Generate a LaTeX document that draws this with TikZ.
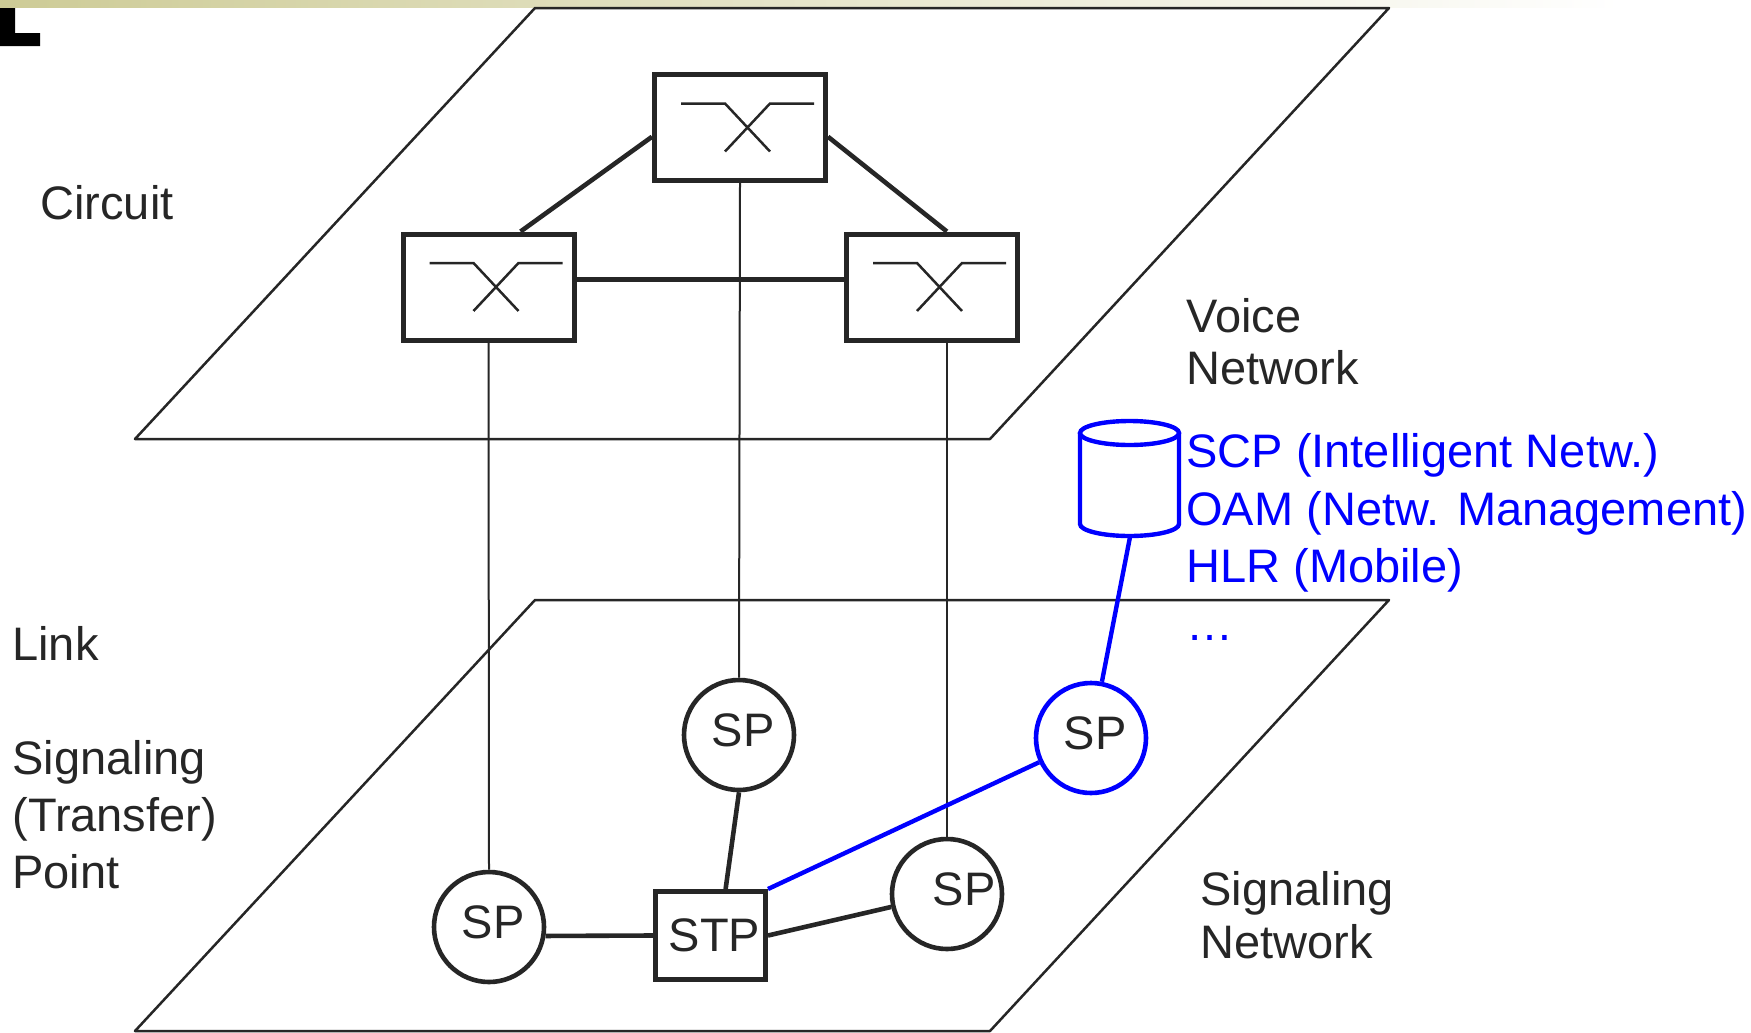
\documentclass[tikz,border=0pt]{standalone}
\usepackage{fontspec}
\setmainfont{Liberation Sans}
\usepackage{xcolor}

\definecolor{ink}{HTML}{262626}
\definecolor{netblue}{HTML}{0000FF}
\definecolor{bar}{RGB}{205,203,150}

\begin{document}
\begin{tikzpicture}[x=0.5pt,y=-0.5pt,
        every node/.style={font=\fontsize{23.5}{28.5}\selectfont, text=ink},
        plane/.style={draw=ink, line width=1.25pt, line join=round},
        switch/.style={draw=ink, line width=2.5pt, minimum width=85.5pt, minimum height=53pt, inner sep=0pt},
        sym/.style={draw=ink, line width=1.25pt},
        sp/.style={circle, draw=ink, line width=2.3pt, minimum size=55pt, inner sep=0pt},
        stpbox/.style={draw=ink, line width=2.5pt, minimum width=55pt, minimum height=44pt, inner sep=0pt},
        trunk/.style={draw=ink, line width=2.3pt},
        vline/.style={draw=ink, line width=1pt},
        bl/.style={draw=netblue, line width=2.2pt},
        lbl/.style={anchor=base west, inner sep=0pt, align=left}]
        \useasboundingbox (0,0) rectangle (1751,1033);
        \shade[left color=bar, right color=white] (0,0) rectangle (1620,7);
        \fill[black] (0,8) -- (15,8) -- (15,33) -- (40,33) -- (40,46) -- (0,46) -- cycle;

        \draw[plane] (535,8) -- (1389,8) -- (990,439) -- (135,439) -- cycle;
        \draw[plane] (535,600) -- (1389,600) -- (990,1031) -- (135,1031) -- cycle;

        \node[switch](sa) at (740,127.5) {};
        \node[switch](sb) at (488.5,287) {};
        \node[switch](sc) at (932,287) {};
        \foreach \s in {sa,sb,sc}
            \draw[sym, shift={(\s.center)}] (-59,-24) -- (-15,-24) -- (30,24) (74,-24) -- (30,-24) -- (-15,24);

        \node[sp](pa) at (739,735) {\rule[-5pt]{0pt}{0pt}\hspace*{4pt}SP};
        \node[sp, draw=netblue](pb) at (1091,738) {\rule[-5pt]{0pt}{0pt}\hspace*{4pt}SP};
        \node[sp](pc) at (489,927) {\rule[-5pt]{0pt}{0pt}\hspace*{4pt}SP};
        \node[sp](pd) at (947,894) {\rule[-5pt]{0pt}{0pt}\hspace*{17pt}SP};
        \node[stpbox](stp) at (710.5,935.5) {\hspace*{4pt}STP};

        \draw[bl] (1080,433) -- (1080,524) arc[start angle=180, end angle=0, x radius=49.5, y radius=12] -- (1179,433);
        \draw[bl] (1129.5,433) ellipse[x radius=49.5, y radius=12];
        \coordinate(db) at (1130,537);

        \draw[trunk](sa.186)--(sb.60);
        \draw[trunk](sa.354)--(sc.75);
        \draw[trunk](sb.5)--(sc.175);
        \draw[vline](sa.south)--(pa.north);
        \draw[vline](sb.south)--(pc.north);
        \draw[vline](pd.north)--(pd.north |- sc.south);
        \draw[trunk](pc.-9)--(stp.west);
        \draw[trunk](pa.south)--(stp.72);
        \draw[trunk](stp.east)--(pd);
        \draw[bl](stp.north east)--(pb);
        \draw[bl](pb)--(db);

        \node[lbl](circuit) at (40,219) {Circuit};
        \node[lbl](voice) at (1186,384) {Voice\\[-2.5pt]Network};
        \node[lbl](link) at (12,660) {Link};
        \node[lbl](stplabel) at (12,888) {Signaling\\(Transfer)\\Point};
        \node[lbl](signet) at (1200,958) {Signaling\\[-2pt]Network};
        \node[lbl, text=netblue, font=\fontsize{23.5}{28.75}\selectfont](dblabel) at (1186,640) {SCP (Intelligent Netw.)\\OAM (Netw. Management)\\HLR (Mobile)\\\ldots};
\end{tikzpicture}
\end{document}
